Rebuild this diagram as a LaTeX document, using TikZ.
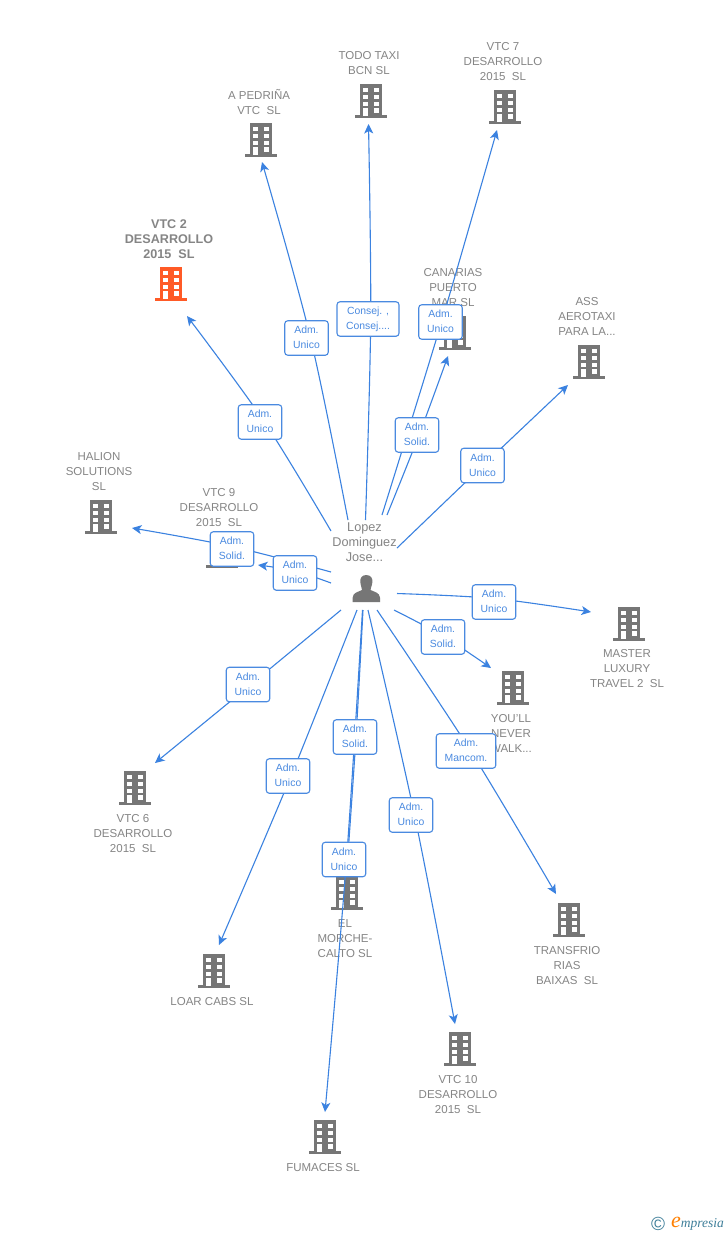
\documentclass[tikz,border=0pt]{standalone}
\usepackage{fontspec}
\setmainfont{Liberation Sans}
\newfontfamily\logofont{Liberation Serif}
\usetikzlibrary{arrows.meta}
\definecolor{lnk}{HTML}{3B82E0}
\definecolor{lbl}{HTML}{4A8AE0}
\definecolor{gtx}{HTML}{858585}
\definecolor{icn}{HTML}{767676}
\definecolor{hot}{HTML}{FF5A26}
\definecolor{teal}{HTML}{3F7F9A}
\tikzset{
 x=1pt,y=-1pt,
 link/.style={draw=lnk,line width=1.1pt,-{Stealth[length=9.5pt,width=9pt,inset=2.5pt]}},
 rel/.style={draw=lbl,line width=1.1pt,fill=white,rounded corners=3pt,minimum height=34.5pt,minimum width=43.5pt,inner sep=0pt,align=center,text=lbl,font=\fontsize{10.4}{15}\selectfont},
 co/.style={text=gtx,align=center,inner sep=0pt,yshift=-0.8pt,font=\fontsize{11.5}{15}\selectfont},
 bld/.pic={
  \fill[pic actions] (-11,-17) rectangle (11,15);
  \fill[pic actions] (-16,14) rectangle (16,17);
  \foreach \yy in {-13,-6,0.7}{
   \fill[white] (-7.7,\yy) rectangle (-2.7,\yy+4.3);
   \fill[white] (2.7,\yy) rectangle (7.7,\yy+4.3);}
  \fill[white] (2.7,7) rectangle (7.7,11.5);
  \fill[white] (-7.7,7) rectangle (-2.7,15);
 }
}
\newcommand{\edge}[3]{\draw[link] plot[smooth,tension=0.55] coordinates {(#1) (#2) (#3)};}
\newcommand{\rtxt}[2]{\raisebox{-0.8pt}{\begin{tabular}{@{}c@{}}#1\\#2\end{tabular}}}
\begin{document}
\begin{tikzpicture}
\useasboundingbox[fill=white] (0,0) rectangle (728,1235);
% icons
\foreach \nm/\px/\py in {i2/261/140,i3/371/101,i4/505/107,i5/455/333,i6/589/362,i7/101/517,i8/221.5/551,i9/629/624,i10/513/688,i11/135/788,i12/214/971,i13/347/893,i14/325/1137,i15/460/1049,i16/569/920}{
 \coordinate (\nm) at (\px,\py);
 \pic[fill=icn] at (\nm) {bld};
}
\coordinate (i1) at (171,284);
\pic[fill=hot] at (i1) {bld};
% company names
\node[co,font=\fontsize{12.6}{15}\selectfont\bfseries] (n1) at (169,238) {VTC 2\\DESARROLLO\\2015\ \ SL};
\node[co] (n2) at (259,101.5) {A PEDRIÑA\\VTC\ \ SL};
\node[co] (n3) at (369,62.5) {TODO TAXI\\BCN SL};
\node[co] (n4) at (503,61) {VTC 7\\DESARROLLO\\2015\ \ SL};
\node[co] (n5) at (453,287) {CANARIAS\\PUERTO\\MAR SL};
\node[co] (n6) at (587,316) {ASS\\AEROTAXI\\PARA LA...};
\node[co] (n7) at (99,471) {HALION\\SOLUTIONS\\SL};
\node[co] (n8) at (219,507) {VTC 9\\DESARROLLO\\2015\ \ SL};
\node[co] (n9) at (627,668) {MASTER\\LUXURY\\TRAVEL 2\ \ SL};
\node[co] (n10) at (511,733) {YOU'LL\\NEVER\\WALK...};
\node[co] (n11) at (133,833) {VTC 6\\DESARROLLO\\2015\ \ SL};
\node[co] (n12) at (212,1001) {LOAR CABS SL};
\node[co] (n13) at (345,938) {EL\\MORCHE-\\CALTO SL};
\node[co] (n14) at (323,1167) {FUMACES SL};
\node[co] (n15) at (458,1094) {VTC 10\\DESARROLLO\\2015\ \ SL};
\node[co] (n16) at (567,965) {TRANSFRIO\\RIAS\\BAIXAS\ \ SL};
% person
\node[co,font=\fontsize{12.7}{15}\selectfont] (boss) at (364.5,541) {Lopez\\Dominguez\\Jose...};
\coordinate (me) at (366,589);
\fill[icn] (366.3,575) .. controls (361.5,575) and (360,578.5) .. (360.3,582) .. controls (360.7,586) and (362,588) .. (362,590) .. controls (358,592) and (353,592.5) .. (352.7,597.5) -- (352.7,602) -- (380,602) -- (380,597.5) .. controls (379.5,592.5) and (374.5,592) .. (370.5,590) .. controls (370.5,588) and (372,586) .. (372.4,582) .. controls (372.7,578.5) and (371,575) .. (366.3,575) -- cycle;
% connector ends
\foreach \nm/\px/\py in {
 s1/331/531,t1/187/316,s2/348/520,t2/262/162,s3/365.5/520,t3/368.5/124,
 s4/382/515,t4/497/130,s5/387/515,t5/448/356,s6/397/548,t6/568/385,
 s7/331/572,t7/132/528,s8/331/583,t8/258/565,s9/397/593.5,t9/591/612,
 s10/394/610,t10/491/668,s11/377/610,t11/556/894,s12/368/610,t12/455/1024,
 s13/363/610,t13/346.5/875,s14/362.5/610,t14/325/1112,s15/357/610,t15/219/945,
 s16/341/610,t16/155/763}{
 \coordinate (\nm) at (\px,\py);
}
% points where the connectors pass behind their labels
\foreach \nm/\px/\py in {m1/264.5/422,m2/310.5/338,m3/370.7/319,m4/441.5/322,m5/419/435,m6/482.5/466,m7/232/546.5,m8/295/571,m9/494/598.5,m10/443/636,m11/470/750,m12/414.5/815,m13/356/737,m14/346.5/860,m15/291/776,m16/249/686}{
 \coordinate (\nm) at (\px,\py);
}
% relation label positions
\foreach \nm/\px/\py in {c1/260/422,c2/306.5/338,c3/368/319,c4/440.5/322,c5/417/435,c6/482.5/465.5,c7/232/549,c8/295/573,c9/494/602,c10/443/637,c11/466/751,c12/411/815,c13/355/737,c14/344/859.5,c15/288/776,c16/248/684.5}{
 \coordinate (\nm) at (\px,\py);
}
% connectors
\edge{s1}{m1}{t1}
\edge{s2}{m2}{t2}
\edge{s3}{m3}{t3}
\edge{s4}{m4}{t4}
\edge{s5}{m5}{t5}
\edge{s6}{m6}{t6}
\edge{s7}{m7}{t7}
\edge{s8}{m8}{t8}
\edge{s9}{m9}{t9}
\edge{s10}{m10}{t10}
\edge{s11}{m11}{t11}
\edge{s12}{m12}{t12}
\edge{s13}{m13}{t13}
\edge{s14}{m14}{t14}
\edge{s15}{m15}{t15}
\edge{s16}{m16}{t16}
% relation labels
\node[rel] (r1) at (c1) {\rtxt{Adm.\hspace{3pt}}{Unico}};
\node[rel] (r2) at (c2) {\rtxt{Adm.\hspace{3pt}}{Unico}};
\node[rel,minimum width=62pt] (r3) at (c3) {\rtxt{Consej. ,}{Consej....}};
\node[rel] (r4) at (c4) {\rtxt{Adm.\hspace{3pt}}{Unico}};
\node[rel] (r5) at (c5) {\rtxt{Adm.\hspace{3pt}}{Solid.}};
\node[rel] (r6) at (c6) {\rtxt{Adm.\hspace{3pt}}{Unico}};
\node[rel] (r7) at (c7) {\rtxt{Adm.\hspace{3pt}}{Solid.}};
\node[rel] (r8) at (c8) {\rtxt{Adm.\hspace{3pt}}{Unico}};
\node[rel] (r9) at (c9) {\rtxt{Adm.\hspace{3pt}}{Unico}};
\node[rel] (r10) at (c10) {\rtxt{Adm.\hspace{3pt}}{Solid.}};
\node[rel,minimum width=59.5pt] (r11) at (c11) {\rtxt{Adm.}{Mancom.}};
\node[rel] (r12) at (c12) {\rtxt{Adm.\hspace{3pt}}{Unico}};
\node[rel] (r13) at (c13) {\rtxt{Adm.\hspace{3pt}}{Solid.}};
\node[rel] (r14) at (c14) {\rtxt{Adm.\hspace{3pt}}{Unico}};
\node[rel] (r15) at (c15) {\rtxt{Adm.\hspace{3pt}}{Unico}};
\node[rel] (r16) at (c16) {\rtxt{Adm.\hspace{3pt}}{Unico}};
% logo
\node[inner sep=0pt,text=teal,font=\fontsize{19}{19}\selectfont] (copy) at (658,1224) {©};
\node[inner sep=0pt,anchor=west,text=teal,font=\logofont\itshape\fontsize{13.5}{14}\selectfont] (brand) at (671,1223.5) {\textcolor{orange}{\fontsize{22}{14}\selectfont e}mpresia};
\end{tikzpicture}
\end{document}
